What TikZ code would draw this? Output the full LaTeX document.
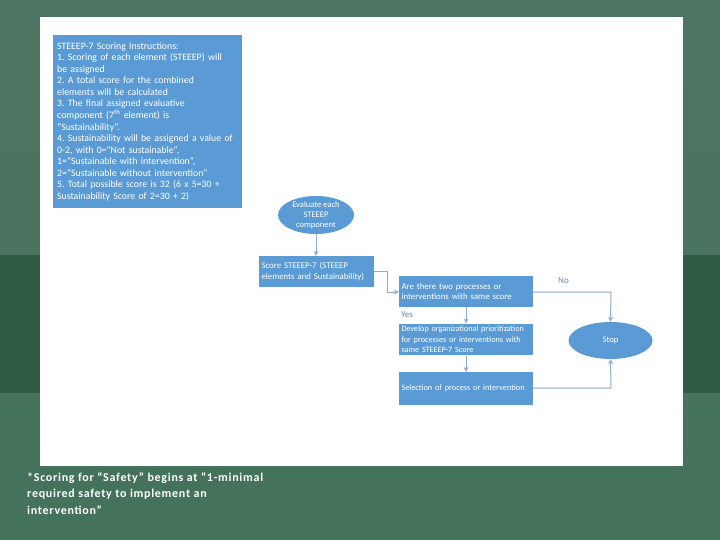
\documentclass[tikz,border=0pt]{standalone}
\usepackage{fontspec}
\setmainfont{Carlito}
\usetikzlibrary{shapes.geometric,arrows.meta}
\definecolor{boxblue}{HTML}{5B9BD5}
\definecolor{conn}{HTML}{90ACCF}
\definecolor{lbl}{HTML}{6A88AE}
\definecolor{bgtop}{HTML}{4E7563}
\definecolor{bgmid}{HTML}{44725A}
\definecolor{bgband}{HTML}{2F5A43}
\begin{document}
\frenchspacing
\begin{tikzpicture}[x=1pt,y=-1pt,
  bluebox/.style={draw=none,fill=boxblue,text=white,rectangle,inner sep=2.5pt,align=left,font=\fontsize{8.8}{10.5}\selectfont},
  blueell/.style={draw=none,fill=boxblue,text=white,ellipse,inner sep=0pt,align=center,font=\fontsize{8.5}{9.8}\selectfont},
  conline/.style={draw=conn,line width=1pt},
  conarrow/.style={conline,-{Stealth[length=5pt,width=5pt]}},
  lab/.style={text=lbl,font=\fontsize{9}{10}\selectfont,inner sep=0pt}]
\shade[top color=bgtop,bottom color=bgmid] (0,0) rectangle (720,540);
\fill[bgband] (0,255) rectangle (720,393);
\useasboundingbox (0,0) rectangle (720,540);
\fill[white] (40,17) rectangle (683,466);

\node[bluebox,anchor=north west,inner sep=4pt,minimum width=189pt,minimum height=173pt,text width=181pt,font=\fontsize{9.8}{11.55}\selectfont] (instr) at (53,35)
{STEEEP-7 Scoring Instructions:\\
1. Scoring of each element (STEEEP) will\\
be assigned\\
2. A total score for the combined\\
elements will be calculated\\
3. The final assigned evaluative\\
component (7\textsuperscript{th} element) is\\
“Sustainability”.\\
4. Sustainability will be assigned a value of\\
0-2, with 0=“Not sustainable”,\\
1=“Sustainable with intervention”,\\
2=“Sustainable without intervention”\\
5. Total possible score is 32 (6 x 5=30 +\\
Sustainability Score of 2=30 + 2)};

\node[blueell,minimum width=76pt,minimum height=36pt] (eval) at (316,215) {Evaluate each\\STEEEP\\component};

\node[bluebox,minimum width=115pt,minimum height=31pt,text width=110pt] (score) at (316.5,271.5) {Score STEEEP-7 (STEEEP\\elements and Sustainability)};

\node[bluebox,minimum width=134pt,minimum height=31pt,text width=129pt] (same) at (466,291.5) {Are there two processes or\\interventions with same score};

\node[bluebox,minimum width=134pt,minimum height=31pt,text width=129pt,font=\fontsize{8.2}{10.5}\selectfont] (dev) at (466,339.5) {Develop organizational prioritization\\for processes or interventions with\\same STEEEP-7 Score};

\node[bluebox,minimum width=134pt,minimum height=33pt,text width=129pt,font=\fontsize{8.3}{10}\selectfont] (sel) at (466,388.5) {Selection of process or intervention};

\node[blueell,minimum width=84pt,minimum height=37pt] (stop) at (610.5,340.5) {Stop};

\coordinate (c1) at (387,271);
\coordinate (c2) at (387,292);
\coordinate (c3) at (611,292);
\coordinate (c4) at (611,388);

\draw[conarrow] (eval.south) -- (eval.south |- score.north);
\draw[conarrow] (score.east |- c1) -- (c1) -- (c2) -- (same.west |- c2);
\draw[conarrow] (same.east |- c3) -- (c3) -- (stop.north);
\draw[conarrow] (same.south) -- (dev.north);
\draw[conarrow] (dev.south) -- (sel.north);
\draw[conarrow] (sel.east |- c4) -- (c4) -- (stop.south);

\node[lab,anchor=west] (no) at (558,281) {No};
\node[lab,anchor=west] (yes) at (401,315) {Yes};

\node[anchor=north west,text=white,align=left,inner sep=0pt,font=\bfseries\fontsize{12}{16.5}\selectfont\addfontfeatures{LetterSpace=6}] (foot) at (27,472)
{*Scoring for “Safety” begins at “1-minimal\\required safety to implement an\\intervention”};
\end{tikzpicture}
\end{document}
